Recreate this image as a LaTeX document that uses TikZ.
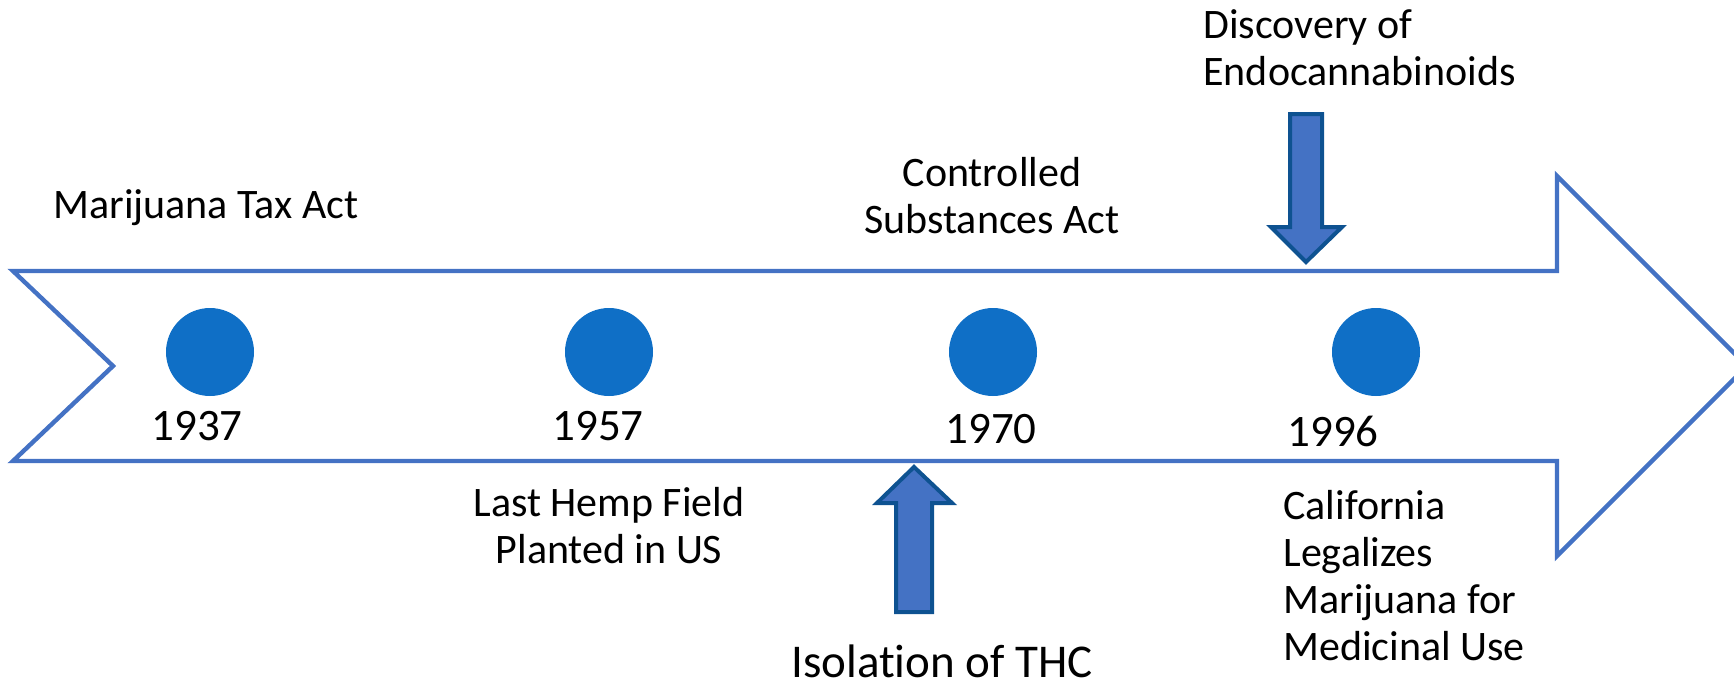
\documentclass[tikz,border=0pt]{standalone}
\usepackage{fontspec}
\setmainfont{Carlito}[Ligatures=NoCommon]
\definecolor{lineblue}{RGB}{68,114,196}
\definecolor{dotblue}{RGB}{15,111,198}
\definecolor{darkblue}{RGB}{14,82,145}
\begin{document}
\begin{tikzpicture}[x=0.5pt, y=-0.5pt,
    dot/.style={circle, fill=dotblue, minimum size=44pt, inner sep=0pt},
    year/.style={font=\fontsize{22.5}{27}\selectfont, inner sep=0pt, anchor=base},
    event/.style={font=\fontsize{21}{23.5}\selectfont, inner sep=0pt, anchor=base},
    blockarrow/.style={draw=darkblue, line width=2pt, fill=lineblue, line join=miter}]
        \useasboundingbox (0,0) rectangle (1734,686);

        % Timeline arrow
        \draw [lineblue, line width=2.2pt, line join=miter] (13,271) -- (1557,271) -- (1557,176) -- (1747,366)
            -- (1557,556) -- (1557,461) -- (13,461) -- (113,366) -- cycle;

        % Dots
        \node [dot] (d1937) at (210,352) {};
        \node [dot] (d1957) at (609,352) {};
        \node [dot] (d1970) at (993,352) {};
        \node [dot] (d1996) at (1376,352) {};

        % Years
        \node [year] (y1937) at (197,440) {1937};
        \node [year] (y1957) at (598,440) {1957};
        \node [year] (y1970) at (991,443) {1970};
        \node [year] (y1996) at (1333,446) {1996};

        % Events (base = last line)
        \node [event, anchor=base west] (tax) at (53,218) {Marijuana Tax Act};
        \node [event, align=center] (csa) at (992,233) {Controlled\\Substances Act};
        \node [event, align=left, anchor=base west] (endo) at (1203,85) {Discovery of\\Endocannabinoids};
        \node [event, align=center] (hemp) at (609,563) {Last Hemp Field\\Planted in US};
        \node [event, font=\fontsize{23.5}{28}\selectfont] (thc) at (942,677) {Isolation of THC};
        \node [event, align=left, anchor=base west] (calif) at (1283,660) {California\\Legalizes\\Marijuana for\\Medicinal Use};

        % Block arrows
        \draw [blockarrow] (896,612) -- (896,503) -- (877,503) -- (914,467) -- (952,503)
            -- (932,503) -- (932,612) -- cycle;
        \draw [blockarrow] (1290,114) -- (1322,114) -- (1322,227) -- (1342,227) -- (1306,262)
            -- (1271,227) -- (1290,227) -- cycle;
    \end{tikzpicture}
\end{document}
